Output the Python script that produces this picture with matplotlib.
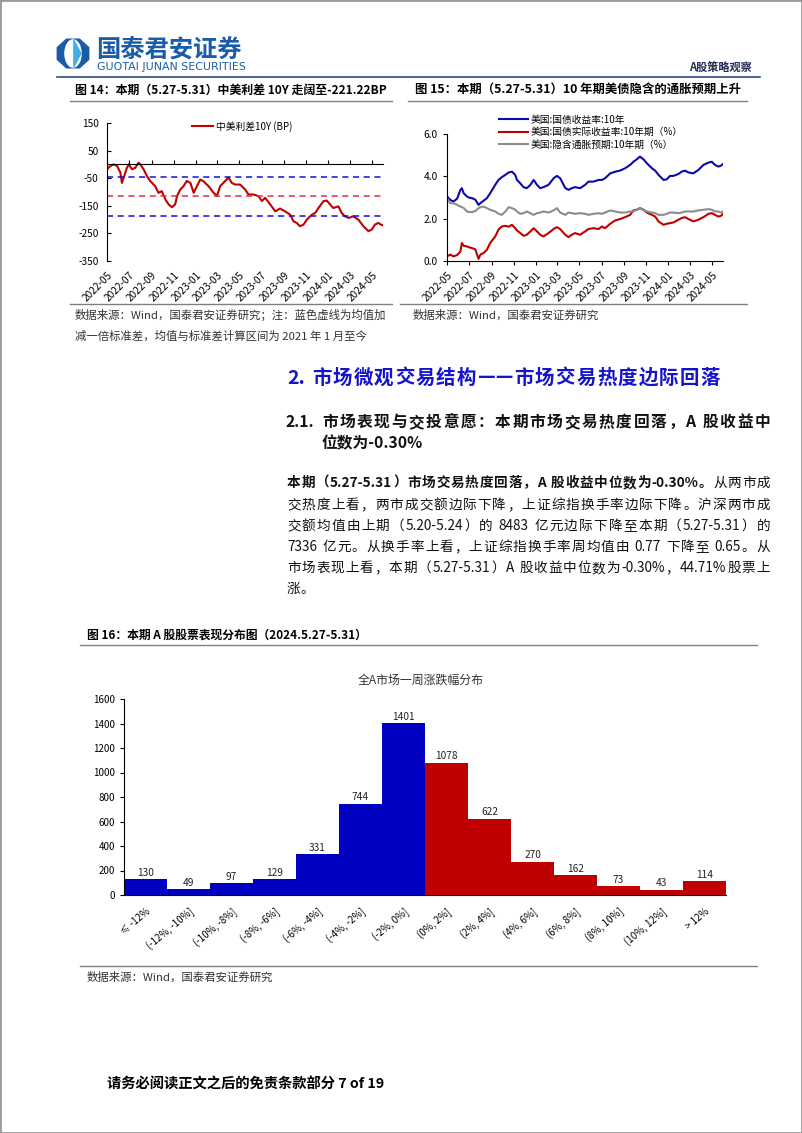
import re
import numpy as np
import pandas as pd
import matplotlib
matplotlib.use('Agg')
import matplotlib.pyplot as plt
import matplotlib.dates as mdates
from matplotlib.patches import Polygon, Ellipse, Rectangle
from matplotlib.lines import Line2D

plt.rcParams['font.family'] = ['Noto Sans CJK SC', 'DejaVu Sans']
plt.rcParams['axes.unicode_minus'] = False

# ---- data ----
dates = ['2022-05-01', '2022-05-10', '2022-05-19', '2022-05-29', '2022-06-07', '2022-06-11',
         '2022-06-16', '2022-06-25', '2022-06-30', '2022-07-09', '2022-07-18', '2022-07-27',
         '2022-08-01', '2022-08-10', '2022-08-19', '2022-08-28', '2022-09-11', '2022-09-20',
         '2022-09-29', '2022-10-09', '2022-10-18', '2022-10-27', '2022-11-05', '2022-11-10',
         '2022-11-19', '2022-11-28', '2022-12-07', '2022-12-17', '2022-12-26', '2023-01-04',
         '2023-01-13', '2023-01-22', '2023-02-05', '2023-02-19', '2023-02-28', '2023-03-09',
         '2023-03-23', '2023-04-01', '2023-04-10', '2023-04-19', '2023-05-03', '2023-05-17',
         '2023-05-26', '2023-06-09', '2023-06-23', '2023-07-02', '2023-07-11', '2023-07-25',
         '2023-08-08', '2023-08-21', '2023-09-04', '2023-09-18', '2023-09-27', '2023-10-06',
         '2023-10-15', '2023-10-25', '2023-11-03', '2023-11-17', '2023-11-26', '2023-12-05',
         '2023-12-19', '2023-12-28', '2024-01-06', '2024-01-15', '2024-01-29', '2024-02-07',
         '2024-02-16', '2024-02-26', '2024-03-10', '2024-03-24', '2024-04-07', '2024-04-21',
         '2024-04-30', '2024-05-09', '2024-05-18', '2024-05-25', '2024-05-31']

cn_us_spread = [-18, -6, 0, -6, -30, -67, -48, -12, 0, -18, -12, 6, 0, -18, -42, -60, -79, -103,
                -97, -127, -145, -155, -145, -115, -91, -79, -60, -67, -103, -79, -55, -61, -79,
                -103, -115, -79, -60, -48, -67, -73, -73, -91, -109, -109, -115, -133, -121, -145,
                -170, -160, -170, -182, -206, -212, -224, -218, -200, -182, -176, -158, -133, -131,
                -145, -158, -152, -176, -188, -194, -188, -200, -224, -242, -236, -218, -212, -218,
                -221]
spread_mean = -115
spread_std = 71

us10y = [3.05, 2.89, 2.81, 2.95, 3.36, 3.44, 3.20, 3.05, 3.00, 2.97, 2.90, 2.65, 2.73, 2.85,
         2.97, 3.20, 3.60, 3.83, 3.96, 4.07, 4.18, 4.22, 4.07, 3.83, 3.67, 3.49, 3.44, 3.60,
         3.83, 3.60, 3.44, 3.49, 3.60, 3.91, 4.02, 3.91, 3.45, 3.36, 3.44, 3.49, 3.44, 3.60,
         3.75, 3.75, 3.83, 3.83, 3.91, 4.14, 4.22, 4.27, 4.38, 4.54, 4.69, 4.80, 4.93, 4.80,
         4.62, 4.38, 4.27, 4.07, 3.83, 3.86, 4.02, 4.02, 4.11, 4.22, 4.27, 4.18, 4.14, 4.30,
         4.54, 4.65, 4.69, 4.54, 4.46, 4.50, 4.58]
us10y_real = [0.22, 0.30, 0.22, 0.28, 0.45, 0.85, 0.72, 0.69, 0.65, 0.61, 0.55, 0.10, 0.30, 0.38,
              0.53, 0.85, 1.16, 1.48, 1.63, 1.66, 1.62, 1.71, 1.55, 1.44, 1.32, 1.19, 1.24, 1.40,
              1.55, 1.40, 1.24, 1.16, 1.32, 1.51, 1.60, 1.51, 1.24, 1.13, 1.24, 1.32, 1.24, 1.40,
              1.51, 1.55, 1.51, 1.63, 1.55, 1.76, 1.92, 1.98, 2.07, 2.18, 2.39, 2.42, 2.50, 2.42,
              2.29, 2.18, 2.10, 1.87, 1.71, 1.76, 1.79, 1.82, 1.95, 2.03, 2.07, 1.98, 1.87, 1.95,
              2.07, 2.23, 2.26, 2.18, 2.10, 2.13, 2.23]
us10y_bei = [2.97, 2.73, 2.73, 2.65, 2.57, 2.55, 2.50, 2.34, 2.32, 2.31, 2.36, 2.50, 2.54, 2.57,
             2.50, 2.42, 2.34, 2.23, 2.18, 2.34, 2.54, 2.50, 2.42, 2.34, 2.23, 2.26, 2.34, 2.26,
             2.18, 2.26, 2.29, 2.34, 2.29, 2.39, 2.50, 2.29, 2.18, 2.29, 2.26, 2.23, 2.26, 2.23,
             2.18, 2.23, 2.26, 2.23, 2.29, 2.39, 2.34, 2.29, 2.29, 2.34, 2.34, 2.42, 2.50, 2.42,
             2.34, 2.29, 2.26, 2.18, 2.18, 2.23, 2.29, 2.29, 2.26, 2.29, 2.34, 2.34, 2.34, 2.39,
             2.42, 2.45, 2.42, 2.34, 2.34, 2.29, 2.34]

bins = ['≤ -12%', '(-12%, -10%]', '(-10%, -8%]', '(-8%, -6%]', '(-6%, -4%]', '(-4%, -2%]',
        '(-2%, 0%]', '(0%, 2%]', '(2%, 4%]', '(4%, 6%]', '(6%, 8%]', '(8%, 10%]',
        '(10%, 12%]', '> 12%']
counts = [130, 49, 97, 129, 331, 744, 1401, 1078, 622, 270, 162, 73, 43, 114]

para = [
    [("本期（5.27-5.31）市场交易热度回落，A 股收益中位数为-0.30%。", 'bold'), ("从两市成", 'normal')],
    [("交热度上看，两市成交额边际下降，上证综指换手率边际下降。沪深两市成", 'normal')],
    [("交额均值由上期（5.20-5.24）的 8483 亿元边际下降至本期（5.27-5.31）的", 'normal')],
    [("7336 亿元。从换手率上看，上证综指换手率周均值由 0.77 下降至 0.65。从", 'normal')],
    [("市场表现上看，本期（5.27-5.31）A 股收益中位数为-0.30%，44.71%股票上", 'normal')],
    [("涨。", 'normal')],
]

W, H = 802, 1133
fig = plt.figure(figsize=(W / 100, H / 100), dpi=100)
renderer = fig.canvas.get_renderer()


def fx(x):
    return x / W


def fy(y):
    return 1 - y / H


def put(x, y, s, **kw):
    kw.setdefault('va', 'center')
    return fig.text(fx(x), fy(y), s, **kw)


def hline(x0, x1, y, color='#808080', lw=1.0):
    fig.add_artist(Line2D([fx(x0), fx(x1)], [fy(y), fy(y)], color=color, lw=lw))


def justify(y, segments, x0, x1, size, last=False, color='#111111'):
    toks = []
    for s, w in segments:
        for t in re.findall(r'[A-Za-z0-9.\-%]+|—+|\s|.', s):
            toks.append((t, w))
    objs, widths = [], []
    for t, w in toks:
        if t == ' ':
            objs.append(None)
            widths.append(size * 100 / 72 * 0.25)
            continue
        txt = put(x0, y, t, fontsize=size, fontweight=w, color=color, ha='left')
        objs.append(txt)
        widths.append(txt.get_window_extent(renderer).width)
    gap = 0 if last else (x1 - x0 - sum(widths)) / (len(toks) - 1)
    x = x0
    for o, wd in zip(objs, widths):
        if o is not None:
            o.set_x(fx(x))
        x += wd + gap


# page border
fig.add_artist(Rectangle((0, 0), 1, 1, transform=fig.transFigure, fill=False,
                         edgecolor='#9a9a9a', lw=2))

# ---- header ----
lax = fig.add_axes([fx(56), fy(69), 34 / W, 31 / H])
lax.set_xlim(-1, 1)
lax.set_ylim(-1, 1)
lax.axis('off')
ang = np.deg2rad(np.arange(22.5, 360, 45))
lax.add_patch(Polygon(np.c_[np.cos(ang), np.sin(ang)], closed=True, color='#1B5CA8'))
lax.add_patch(Ellipse((0, 0), 0.95, 1.75, color='white'))
lax.add_patch(Polygon([[0.05, 0.86], [0.47, 0.0], [0.05, -0.86]], closed=True, color='#45ADE6'))

put(96, 49, '国泰君安证券', fontsize=17.5, fontweight='bold', color='#1B5CA8')
put(97, 67, 'GUOTAI JUNAN SECURITIES', fontsize=7.9, color='#1B5CA8', family='DejaVu Sans')
put(752, 68, 'A股策略观察', fontsize=8, fontweight='bold', color='#1F2F5A', ha='right')
hline(57, 760, 77, color='#2E4A80', lw=1.2)

# ---- figure 14 / 15 titles ----
put(75, 90, '图 14：本期（5.27-5.31）中美利差 10Y 走阔至-221.22BP', fontsize=8.6, fontweight='bold')
put(415, 90, '图 15：本期（5.27-5.31）10 年期美债隐含的通胀预期上升', fontsize=8.9, fontweight='bold')
hline(70, 392, 101)
hline(408, 747, 101)

dt = pd.to_datetime(dates)
start, end = pd.Timestamp('2022-05-01'), pd.Timestamp('2024-05-31')

# ---- left chart: China-US spread ----
ax1 = fig.add_axes([fx(107), fy(261), (383 - 107) / W, (261 - 123) / H])
ax1.plot(dt, cn_us_spread, color='#C00000', lw=1.5, label='中美利差10Y (BP)')
ax1.axhline(spread_mean, color='#E03040', ls=(0, (4, 3)), lw=1.1)
ax1.axhline(spread_mean + spread_std, color='#1010E0', ls=(0, (4, 3)), lw=1.1)
ax1.axhline(spread_mean - spread_std, color='#1010E0', ls=(0, (4, 3)), lw=1.1)
ax1.set_ylim(-350, 150)
ax1.set_yticks([-350, -250, -150, -50, 50, 150])
ax1.set_xlim(start, end)
ax1.xaxis.set_major_locator(mdates.MonthLocator(bymonth=[1, 3, 5, 7, 9, 11]))
ax1.xaxis.set_major_formatter(mdates.DateFormatter('%Y-%m'))
for s in ['top', 'right']:
    ax1.spines[s].set_visible(False)
ax1.spines['bottom'].set_position(('data', 0))
ax1.tick_params(axis='x', direction='in', length=3, pad=76, labelsize=7.3)
ax1.tick_params(axis='y', direction='in', length=3, labelsize=7.3, pad=6)
for lab in ax1.get_xticklabels():
    lab.set_rotation(45)
    lab.set_ha('right')
    lab.set_rotation_mode('anchor')
ax1.legend(loc='upper left', bbox_to_anchor=(fx(188), fy(117)), bbox_transform=fig.transFigure,
           frameon=False, fontsize=7, handlelength=2.2, handletextpad=0.3, borderaxespad=0)

# ---- right chart: US 10Y yields ----
ax2 = fig.add_axes([fx(447), fy(261), (723 - 447) / W, (261 - 134) / H])
ax2.plot(dt, us10y, color='#0A0AAA', lw=1.5, label='美国:国债收益率:10年')
ax2.plot(dt, us10y_real, color='#C00000', lw=1.5, label='美国:国债实际收益率:10年期（%）')
ax2.plot(dt, us10y_bei, color='#8C8C8C', lw=1.5, label='美国:隐含通胀预期:10年期（%）')
ax2.set_ylim(0, 6)
ax2.set_yticks([0, 2, 4, 6])
ax2.yaxis.set_major_formatter(matplotlib.ticker.FormatStrFormatter('%.1f'))
ax2.set_xlim(start, end)
ax2.xaxis.set_major_locator(mdates.MonthLocator(bymonth=[1, 3, 5, 7, 9, 11]))
ax2.xaxis.set_major_formatter(mdates.DateFormatter('%Y-%m'))
for s in ['top', 'right']:
    ax2.spines[s].set_visible(False)
ax2.tick_params(axis='both', direction='out', length=3, labelsize=7.3)
for lab in ax2.get_xticklabels():
    lab.set_rotation(45)
    lab.set_ha('right')
    lab.set_rotation_mode('anchor')
ax2.legend(loc='upper left', bbox_to_anchor=(fx(495), fy(111)), bbox_transform=fig.transFigure,
           frameon=False, fontsize=7, handlelength=3.0, handletextpad=0.3, labelspacing=0.25,
           borderaxespad=0)

hline(70, 392, 304)
hline(400, 747, 304)
put(75, 315, '数据来源：Wind，国泰君安证券研究；注：蓝色虚线为均值加', fontsize=8.2, color='#333333')
put(75, 336, '减一倍标准差，均值与标准差计算区间为 2021 年 1 月至今', fontsize=8.2, color='#333333')
put(413, 315, '数据来源：Wind，国泰君安证券研究', fontsize=8.2, color='#333333')

# ---- section headings ----
justify(378, [('2.', 'bold'), (' ', 'bold'), ('市场微观交易结构——市场交易热度边际回落', 'bold')],
        287, 720, 14, color='#1414CC')
put(285, 422, '2.1.', fontsize=11.3, fontweight='bold', color='#111111')
justify(422, [('市场表现与交投意愿：本期市场交易热度回落，A 股收益中', 'bold')], 322, 770, 11.3)
put(322, 443, '位数为-0.30%', fontsize=11.3, fontweight='bold', color='#111111')

# ---- paragraph ----
para_y = [483, 505, 526, 547, 568, 589]
for i, (yy, segs) in enumerate(zip(para_y, para)):
    justify(yy, segs, 287, 770, 9.8, last=(i == len(para) - 1))

# ---- figure 16 ----
put(87, 635, '图 16：本期 A 股股票表现分布图（2024.5.27-5.31）', fontsize=8.5, fontweight='bold')
hline(80, 757, 645)

ax3 = fig.add_axes([fx(124), fy(895), (726 - 124) / W, (895 - 699) / H])
bar_colors = ['#0000C0'] * 7 + ['#C00000'] * 7
x = np.arange(len(counts))
ax3.bar(x, counts, width=1.0, color=bar_colors)
for xi, v in zip(x, counts):
    ax3.text(xi, v + 12, str(v), ha='center', va='bottom', fontsize=7.3, color='#222222')
ax3.set_xlim(-0.5, len(counts) - 0.5)
ax3.set_ylim(0, 1600)
ax3.set_yticks(np.arange(0, 1601, 200))
ax3.set_xticks(x)
ax3.set_xticklabels(bins, rotation=40, ha='right', rotation_mode='anchor')
for s in ['top', 'right']:
    ax3.spines[s].set_visible(False)
ax3.tick_params(axis='x', length=0, labelsize=7, pad=8)
ax3.tick_params(axis='y', direction='out', length=3, labelsize=7)
put(421, 680, '全A市场一周涨跌幅分布', fontsize=8.6, color='#333333', ha='center')

hline(80, 757, 966)
put(87, 977, '数据来源：Wind，国泰君安证券研究', fontsize=8.2, color='#333333')

# ---- footer ----
put(107, 1085, '请务必阅读正文之后的免责条款部分 7 of 19', fontsize=10.3, fontweight='bold')

fig.savefig('out.png', dpi=100)
